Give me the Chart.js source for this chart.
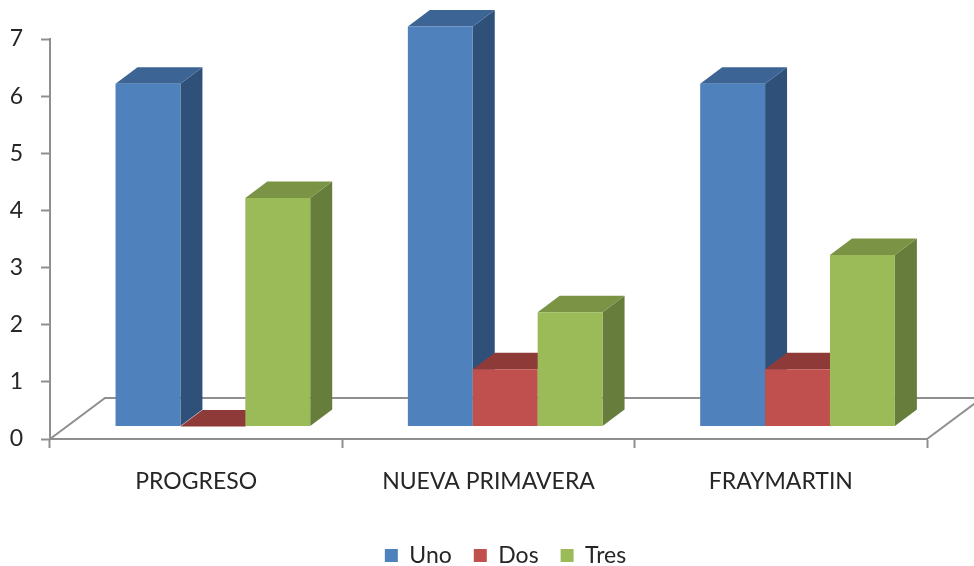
<!DOCTYPE html>
<html>
<head>
<meta charset="utf-8">
<title>Chart</title>
<script src="https://cdn.jsdelivr.net/npm/chart.js@4/dist/chart.umd.min.js"></script>
<style>
    html, body { margin: 0; padding: 0; background: #fff; overflow: hidden; }
    canvas { display: block; }
</style>
</head>
<body>
<canvas id="barChart" width="974" height="566"></canvas>
<script>
const categories = ['PROGRESO', 'NUEVA PRIMAVERA', 'FRAYMARTIN'];
const uno = [6, 7, 6];
const dos = [0, 1, 1];
const tres = [4, 2, 3];
const yTicks = [0, 1, 2, 3, 4, 5, 6, 7];

const AXIS_COLOR = '#8f8f8f';
const TEXT_COLOR = '#262626';
const FONT = 'Lato, "Open Sans", sans-serif';

// Bars stand forward of the axis plane, on the floor
const BAR_SHIFT = { x: 16.7, y: -12.5 };
const DEPTH = { x: 22, y: 16.5 };
const FLOOR = { x: 55, y: 41 };

// Floor of the 3D box, behind the bars
function drawFloor(chart) {
    const { ctx, chartArea: { left, right, bottom } } = chart;
    ctx.save();
    ctx.strokeStyle = AXIS_COLOR;
    ctx.lineWidth = 2;
    ctx.beginPath();
    ctx.moveTo(left, bottom);
    ctx.lineTo(left + FLOOR.x, bottom - FLOOR.y);
    ctx.lineTo(right + FLOOR.x, bottom - FLOOR.y);
    ctx.lineTo(right, bottom);
    ctx.stroke();
    ctx.restore();
}

// Side and top faces of one dataset
function drawDepth(ctx, dataset, meta) {
    meta.data.forEach((bar) => {
        const l = bar.x - bar.width / 2;
        const r = bar.x + bar.width / 2;

        ctx.fillStyle = dataset.sideColor;
        ctx.beginPath();
        ctx.moveTo(r, bar.y);
        ctx.lineTo(r + DEPTH.x, bar.y - DEPTH.y);
        ctx.lineTo(r + DEPTH.x, bar.base - DEPTH.y);
        ctx.lineTo(r, bar.base);
        ctx.closePath();
        ctx.fill();

        ctx.fillStyle = dataset.topColor;
        ctx.beginPath();
        ctx.moveTo(l, bar.y);
        ctx.lineTo(l + DEPTH.x, bar.y - DEPTH.y);
        ctx.lineTo(r + DEPTH.x, bar.y - DEPTH.y);
        ctx.lineTo(r, bar.y);
        ctx.closePath();
        ctx.fill();
    });
}

// Chart.js paints the last dataset first; here each bar has to cover
// the side face of the one to its left, so paint left to right instead
const box3dPlugin = {
    id: 'box3d',
    beforeDatasetsDraw(chart) {
        const { ctx } = chart;
        drawFloor(chart);
        ctx.save();
        ctx.translate(BAR_SHIFT.x, BAR_SHIFT.y);
        chart.data.datasets.forEach((dataset, i) => {
            const meta = chart.getDatasetMeta(i);
            drawDepth(ctx, dataset, meta);
            meta.controller.draw();
        });
        ctx.restore();
        return false;
    }
};

// The legend sits right of the canvas centre and low on the page
const legendShift = {
    id: 'legendShift',
    afterLayout(chart) {
        chart.legend.left += 42;
        chart.legend.right += 42;
        chart.legend.top += 11;
        chart.legend.bottom += 11;
    }
};

new Chart(document.getElementById('barChart'), {
    type: 'bar',
    data: {
        labels: categories,
        datasets: [
            { label: 'Uno', data: uno, backgroundColor: '#4F81BD', topColor: '#3C6494', sideColor: '#2F5179' },
            { label: 'Dos', data: dos, backgroundColor: '#C0504D', topColor: '#8E3A38', sideColor: '#7D302E' },
            { label: 'Tres', data: tres, backgroundColor: '#9BBB59', topColor: '#7A9344', sideColor: '#667D3C' }
        ]
    },
    plugins: [box3dPlugin, legendShift],
    options: {
        responsive: false,
        animation: false,
        categoryPercentage: 0.666,
        barPercentage: 1,
        layout: { padding: { top: 39, right: 47, left: 0, bottom: 0 } },
        plugins: {
            title: { display: false },
            tooltip: { enabled: false },
            legend: {
                position: 'bottom',
                labels: {
                    boxWidth: 13,
                    boxHeight: 13,
                    padding: 22,
                    color: TEXT_COLOR,
                    font: { family: FONT, size: 23 }
                }
            }
        },
        scales: {
            x: {
                grid: { drawOnChartArea: false, tickLength: 9, tickWidth: 2, tickColor: AXIS_COLOR, offset: true },
                border: { display: true, color: AXIS_COLOR, width: 2 },
                ticks: { color: TEXT_COLOR, padding: 20, maxRotation: 0, font: { family: FONT, size: 23 } },
                afterFit(scale) { scale.height = 72; }
            },
            y: {
                min: 0,
                max: 7,
                afterBuildTicks(scale) { scale.ticks = yTicks.map((value) => ({ value })); },
                grid: { drawOnChartArea: false, tickLength: 9, tickWidth: 2, tickColor: AXIS_COLOR },
                border: { display: true, color: AXIS_COLOR, width: 2 },
                ticks: { color: TEXT_COLOR, padding: 18, font: { family: FONT, size: 23 } },
                afterFit(scale) { scale.width = 50; }
            }
        }
    }
});
</script>
</body>
</html>
